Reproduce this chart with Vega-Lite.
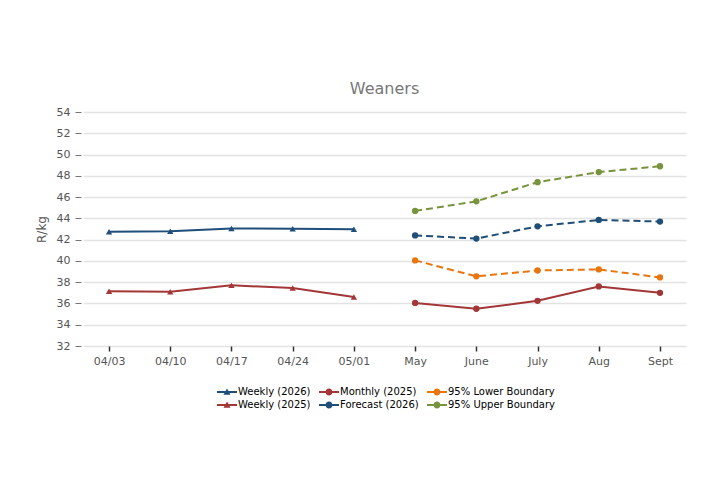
{
  "$schema": "https://vega.github.io/schema/vega-lite/v6.json",
  "width": 603,
  "height": 234,
  "autosize": {"type": "none"},
  "padding": {"left": 83, "top": 112, "right": 21, "bottom": 137},
  "background": "white",
  "title": {"text": "Weaners", "fontSize": 16, "font": "DejaVu Sans", "fontWeight": "normal", "color": "#777777", "baseline": "alphabetic", "offset": -4, "anchor": "middle"},
  "config": {"view": {"stroke": null}},
  "data": {"values": [
    {"period": "04/03", "series": "Weekly (2026)", "value": 42.75},
    {"period": "04/10", "series": "Weekly (2026)", "value": 42.78},
    {"period": "04/17", "series": "Weekly (2026)", "value": 43.05},
    {"period": "04/24", "series": "Weekly (2026)", "value": 43.03},
    {"period": "05/01", "series": "Weekly (2026)", "value": 42.97},
    {"period": "04/03", "series": "Weekly (2025)", "value": 37.15},
    {"period": "04/10", "series": "Weekly (2025)", "value": 37.1},
    {"period": "04/17", "series": "Weekly (2025)", "value": 37.7},
    {"period": "04/24", "series": "Weekly (2025)", "value": 37.45},
    {"period": "05/01", "series": "Weekly (2025)", "value": 36.6},
    {"period": "May", "series": "Monthly (2025)", "value": 36.05},
    {"period": "June", "series": "Monthly (2025)", "value": 35.5},
    {"period": "July", "series": "Monthly (2025)", "value": 36.25},
    {"period": "Aug", "series": "Monthly (2025)", "value": 37.6},
    {"period": "Sept", "series": "Monthly (2025)", "value": 37.0},
    {"period": "May", "series": "Forecast (2026)", "value": 42.4},
    {"period": "June", "series": "Forecast (2026)", "value": 42.1},
    {"period": "July", "series": "Forecast (2026)", "value": 43.25},
    {"period": "Aug", "series": "Forecast (2026)", "value": 43.85},
    {"period": "Sept", "series": "Forecast (2026)", "value": 43.7},
    {"period": "May", "series": "95% Lower Boundary", "value": 40.05},
    {"period": "June", "series": "95% Lower Boundary", "value": 38.55},
    {"period": "July", "series": "95% Lower Boundary", "value": 39.1},
    {"period": "Aug", "series": "95% Lower Boundary", "value": 39.2},
    {"period": "Sept", "series": "95% Lower Boundary", "value": 38.45},
    {"period": "May", "series": "95% Upper Boundary", "value": 44.7},
    {"period": "June", "series": "95% Upper Boundary", "value": 45.6},
    {"period": "July", "series": "95% Upper Boundary", "value": 47.4},
    {"period": "Aug", "series": "95% Upper Boundary", "value": 48.35},
    {"period": "Sept", "series": "95% Upper Boundary", "value": 48.9}
  ]},
  "encoding": {
    "x": {
      "field": "period", "type": "ordinal",
      "scale": {"type": "point", "domain": ["04/03", "04/10", "04/17", "04/24", "05/01", "May", "June", "July", "Aug", "Sept"], "padding": 0.425},
      "axis": {"title": null, "domain": false, "grid": false, "tickColor": "#333333", "tickSize": 5, "tickWidth": 1.5, "labelPadding": 4, "labelFont": "DejaVu Sans", "labelFontSize": 11, "labelColor": "#555555", "labelAngle": 0}
    },
    "y": {
      "field": "value", "type": "quantitative",
      "scale": {"domain": [32, 54], "nice": false, "zero": false},
      "axis": {"title": "R/kg", "values": [32, 34, 36, 38, 40, 42, 44, 46, 48, 50, 52, 54], "grid": true, "gridColor": "#e3e3e3", "gridWidth": 1.5, "domain": false, "tickColor": "#777777", "tickSize": 6, "offset": 2, "labelPadding": 5, "labelFont": "DejaVu Sans", "labelFontSize": 11, "labelColor": "#555555", "titleFont": "DejaVu Sans", "titleFontSize": 12, "titleColor": "#555555", "titleFontWeight": "normal", "titlePadding": 8}
    }
  },
  "layer": [
    {
      "transform": [{"filter": "datum.series == 'Weekly (2026)' || datum.series == 'Weekly (2025)' || datum.series == 'Monthly (2025)'"}],
      "mark": {"type": "line", "strokeWidth": 2},
      "encoding": {"color": {"field": "series", "type": "nominal", "legend": null,
        "scale": {"domain": ["Weekly (2026)", "Monthly (2025)", "95% Lower Boundary", "Weekly (2025)", "Forecast (2026)", "95% Upper Boundary"], "range": ["#1f4e79", "#a33636", "#e8760c", "#a33636", "#1f4e79", "#77933c"]}}}
    },
    {
      "transform": [{"filter": "datum.series == 'Forecast (2026)' || datum.series == '95% Lower Boundary' || datum.series == '95% Upper Boundary'"}],
      "mark": {"type": "line", "strokeWidth": 2, "strokeDash": [7, 4]},
      "encoding": {"color": {"field": "series", "type": "nominal", "legend": null}}
    },
    {
      "transform": [{"filter": "datum.series == 'Weekly (2026)' || datum.series == 'Weekly (2025)'"}],
      "mark": {"type": "point", "filled": true, "opacity": 1, "shape": "triangle-up", "size": 40},
      "encoding": {"color": {"field": "series", "type": "nominal", "legend": null}}
    },
    {
      "transform": [{"filter": "datum.series != 'Weekly (2026)' && datum.series != 'Weekly (2025)'"}],
      "mark": {"type": "point", "filled": true, "opacity": 1, "shape": "circle", "size": 40},
      "encoding": {"color": {"field": "series", "type": "nominal", "legend": null}}
    },
    {
      "transform": [{"filter": "false"}],
      "mark": {"type": "point", "filled": true, "opacity": 1},
      "encoding": {
        "color": {"field": "series", "type": "nominal",
          "legend": {"orient": "none", "legendX": 134, "legendY": 275, "columns": 3, "direction": "horizontal", "title": null, "symbolSize": 100, "symbolStrokeWidth": 0, "symbolOpacity": 1, "labelFont": "DejaVu Sans", "labelFontSize": 10, "labelColor": "#000000", "labelOffset": 11, "columnPadding": 8, "rowPadding": 3, "padding": 0}},
        "shape": {"field": "series", "type": "nominal",
          "scale": {"domain": ["Weekly (2026)", "Monthly (2025)", "95% Lower Boundary", "Weekly (2025)", "Forecast (2026)", "95% Upper Boundary"],
            "range": [
              "M-1,-0.2H3V0.2H-1Z M1,-0.7L1.7,0.55L0.3,0.55Z",
              "M-1,-0.2H3V0.2H-1Z M0.3,0A0.7,0.7 0 1,1 1.7,0A0.7,0.7 0 1,1 0.3,0Z",
              "M-1,-0.2H3V0.2H-1Z M0.3,0A0.7,0.7 0 1,1 1.7,0A0.7,0.7 0 1,1 0.3,0Z",
              "M-1,-0.2H3V0.2H-1Z M1,-0.7L1.7,0.55L0.3,0.55Z",
              "M-1,-0.2H3V0.2H-1Z M0.3,0A0.7,0.7 0 1,1 1.7,0A0.7,0.7 0 1,1 0.3,0Z",
              "M-1,-0.2H3V0.2H-1Z M0.3,0A0.7,0.7 0 1,1 1.7,0A0.7,0.7 0 1,1 0.3,0Z"
            ]}}
      }
    }
  ],
  "resolve": {"legend": {"color": "independent", "shape": "independent"}}
}
